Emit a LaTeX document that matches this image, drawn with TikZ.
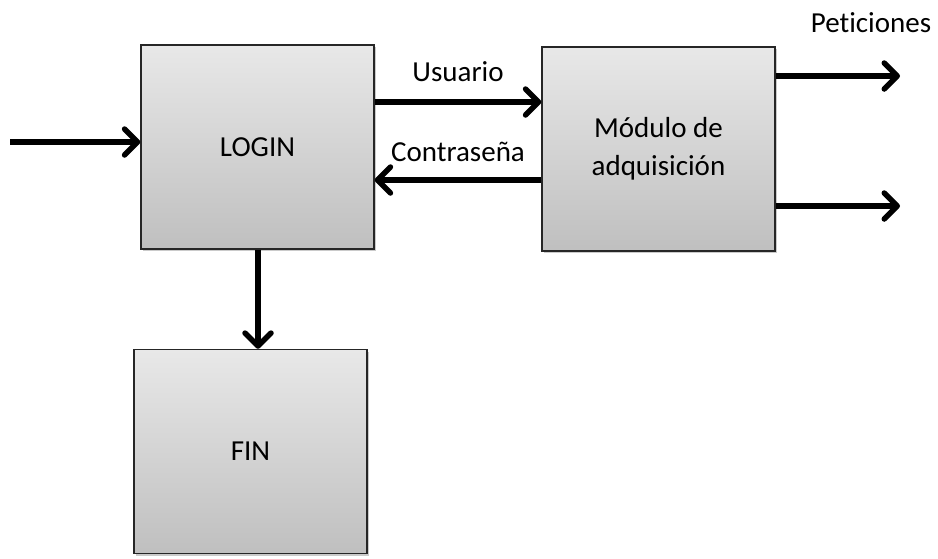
\documentclass[tikz,border=0pt]{standalone}
\usepackage{fontspec}
\setmainfont{Carlito}[Ligatures=NoCommon]
\usetikzlibrary{arrows.meta,shadows,positioning}
\begin{document}
\begin{tikzpicture}[x=1pt,y=-1pt,
  block/.style={draw=black!85,line width=1.4pt,
    top color=black!9,bottom color=black!25,
    minimum width=233pt,minimum height=204pt,inner sep=0pt,
    align=center,font=\fontsize{29}{38}\selectfont,
    drop shadow={shadow xshift=2pt,shadow yshift=-2pt,opacity=0.35,fill=black!60}},
  flow/.style={line width=5.5pt,
    -{Straight Barb[length=13pt,width=26pt,line width=5.5pt,round]}},
  lbl/.style={font=\fontsize{29}{36}\selectfont,inner sep=0pt}]
\useasboundingbox (0,0) rectangle (938,558);
% blocks
\node[block] (login) at (257.5,147) {LOGIN};
\node[block] (fin) at (250.5,451.5) {FIN};
\node[block] (mod) at (658.5,149) {Módulo de\\adquisición};
% free ends
\coordinate (in) at (10,142);
\coordinate (out1) at (900,76);
\coordinate (out2) at (900,206);
% connectors
\draw[flow] (in) -- (login.west |- in);
\draw[flow] (login.east |- 0,102) -- (mod.west |- 0,102);
\draw[flow] (mod.west |- 0,180) -- (login.east |- 0,180);
\draw[flow] (login.south -| 258,0) -- (fin.north -| 258,0);
\draw[flow] (mod.east |- out1) -- (out1);
\draw[flow] (mod.east |- out2) -- (out2);
% labels
\node[lbl] (usr) at (458,72) {Usuario};
\node[lbl] (pwd) at (458,152) {Contraseña};
\node[lbl] (pet) at (871,23) {Peticiones};
\end{tikzpicture}
\end{document}
